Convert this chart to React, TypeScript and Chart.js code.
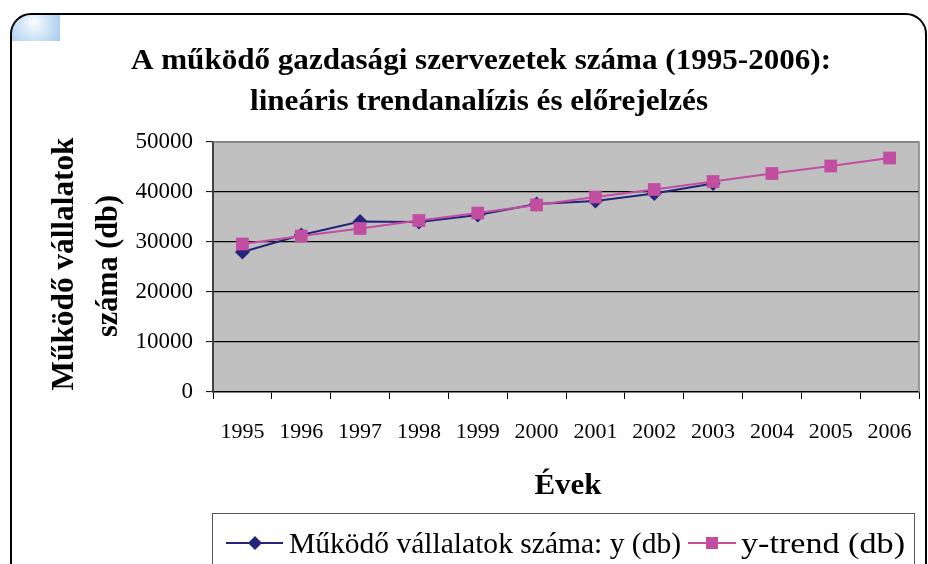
import React, { useEffect, useRef } from "react";
import { Chart, registerables } from "chart.js";

Chart.register(...registerables);

const years = ["1995", "1996", "1997", "1998", "1999", "2000", "2001", "2002", "2003", "2004", "2005", "2006"];
const actualValues = [28000, 31400, 34100, 34000, 35400, 37600, 38200, 39700, 41700, null, null, null];
const trendValues = [29600, 31200, 32700, 34300, 35800, 37400, 39000, 40500, 42100, 43700, 45200, 46800];
const yTicks = [0, 10000, 20000, 30000, 40000, 50000];

const titleLines = ["A működő gazdasági szervezetek száma (1995-2006):", "lineáris trendanalízis és előrejelzés"];
const yTitleLines = ["Működő vállalatok", "száma (db)"];
const xTitle = "Évek";
const seriesNames = ["Működő vállalatok száma: y (db)", "y-trend (db)"];

const NAVY = "#24247c";
const MAGENTA = "#c24ea2";
const SERIF = '"Liberation Serif", "Times New Roman", serif';

function fitText(ctx: CanvasRenderingContext2D, text: string, x: number, y: number, w: number, font: string, align: CanvasTextAlign) {
  ctx.save();
  ctx.font = font;
  const m = ctx.measureText(text).width;
  const s = w / m;
  ctx.translate(x, y);
  ctx.scale(s, 1);
  ctx.textAlign = align;
  ctx.textBaseline = "alphabetic";
  ctx.fillStyle = "#000";
  ctx.fillText(text, 0, 0);
  ctx.restore();
}

const decorPlugin = {
  id: "decor",
  beforeDraw(chart: any) {
    const ctx: CanvasRenderingContext2D = chart.ctx;
    const a = chart.chartArea;
    ctx.save();
    ctx.fillStyle = "#fff";
    ctx.fillRect(0, 0, chart.width, chart.height);
    const framePath = () => {
      ctx.beginPath();
      ctx.moveTo(11, 620);
      ctx.lineTo(11, 34);
      ctx.arcTo(11, 14, 31, 14, 20);
      ctx.lineTo(906, 14);
      ctx.arcTo(926, 14, 926, 34, 20);
      ctx.lineTo(926, 620);
    };
    ctx.save();
    framePath();
    ctx.closePath();
    ctx.clip();
    const g = ctx.createRadialGradient(34, 22, 2, 34, 26, 32);
    g.addColorStop(0, "#f4f9fd");
    g.addColorStop(0.5, "#c9e0f5");
    g.addColorStop(1, "#9ec6ec");
    ctx.fillStyle = g;
    ctx.fillRect(10, 14, 50, 27);
    ctx.restore();
    framePath();
    ctx.strokeStyle = "#000";
    ctx.lineWidth = 2;
    ctx.stroke();
    ctx.fillStyle = "#c0c0c0";
    ctx.fillRect(a.left, a.top, a.right - a.left, a.bottom - a.top);
    ctx.restore();
  },
  afterDraw(chart: any) {
    const ctx: CanvasRenderingContext2D = chart.ctx;
    const a = chart.chartArea;
    ctx.save();
    ctx.strokeStyle = "#808080";
    ctx.lineWidth = 1.5;
    ctx.beginPath();
    ctx.moveTo(a.left, a.top);
    ctx.lineTo(a.right, a.top);
    ctx.lineTo(a.right, a.bottom);
    ctx.stroke();

    fitText(ctx, titleLines[0], 481, 69, 700, `bold 30px ${SERIF}`, "center");
    fitText(ctx, titleLines[1], 479, 110, 458, `bold 30px ${SERIF}`, "center");
    fitText(ctx, xTitle, 568, 494, 67, `bold 30px ${SERIF}`, "center");
    ctx.save();
    ctx.translate(73, 264);
    ctx.rotate(-Math.PI / 2);
    fitText(ctx, yTitleLines[0], 0, 0, 253, `bold 32px ${SERIF}`, "center");
    ctx.restore();
    ctx.save();
    ctx.translate(117, 266);
    ctx.rotate(-Math.PI / 2);
    fitText(ctx, yTitleLines[1], 0, 0, 142, `bold 32px ${SERIF}`, "center");
    ctx.restore();

    ctx.strokeStyle = "#555";
    ctx.lineWidth = 1;
    ctx.strokeRect(212.5, 513.5, 702, 80);
    const ly = 543;
    const ds = chart.data.datasets;
    ctx.strokeStyle = ds[0].borderColor;
    ctx.lineWidth = 2;
    ctx.beginPath();
    ctx.moveTo(226, ly);
    ctx.lineTo(283, ly);
    ctx.stroke();
    ctx.fillStyle = ds[0].borderColor;
    ctx.beginPath();
    ctx.moveTo(255, ly - 7);
    ctx.lineTo(262, ly);
    ctx.lineTo(255, ly + 7);
    ctx.lineTo(248, ly);
    ctx.closePath();
    ctx.fill();
    fitText(ctx, ds[0].label, 289, ly + 10, 392, `30px ${SERIF}`, "left");
    ctx.strokeStyle = ds[1].borderColor;
    ctx.beginPath();
    ctx.moveTo(688, ly);
    ctx.lineTo(736, ly);
    ctx.stroke();
    ctx.fillStyle = ds[1].borderColor;
    ctx.fillRect(706, ly - 6, 12, 12);
    fitText(ctx, ds[1].label, 741, ly + 10, 164, `30px ${SERIF}`, "left");
    ctx.restore();
  },
};

export default function App() {
  const ref = useRef<HTMLCanvasElement>(null);
  useEffect(() => {
    if (!ref.current) return;
    const chart = new Chart(ref.current, {
      type: "line",
      data: {
        labels: years,
        datasets: [
          {
            label: seriesNames[0],
            data: actualValues,
            borderColor: NAVY,
            backgroundColor: NAVY,
            borderWidth: 2,
            pointStyle: "rectRot",
            pointRadius: 7.5,
            pointBorderWidth: 0,
            tension: 0,
            order: 1,
            spanGaps: false,
          },
          {
            label: seriesNames[1],
            data: trendValues,
            borderColor: MAGENTA,
            backgroundColor: MAGENTA,
            borderWidth: 2,
            pointStyle: "rect",
            pointRadius: 9,
            pointBorderWidth: 0,
            tension: 0,
            order: 0,
          },
        ],
      },
      options: {
        responsive: false,
        animation: false,
        devicePixelRatio: 1,
        layout: { padding: { top: 142, right: 6, left: 0, bottom: 112 } },
        plugins: {
          legend: { display: false },
          title: { display: false },
          tooltip: { enabled: false },
        },
        scales: {
          x: {
            type: "category",
            offset: true,
            afterFit: (s: any) => {
              s.height = 60;
              s.paddingLeft = 0;
              s.paddingRight = 0;
            },
            grid: {
              offset: true,
              drawOnChartArea: false,
              drawTicks: true,
              tickLength: 7,
              tickColor: "#000",
              tickWidth: 1,
            },
            border: { display: true, color: "#000", width: 1.5 },
            ticks: {
              color: "#000",
              font: { family: SERIF, size: 22 },
              padding: 20,
              maxRotation: 0,
              autoSkip: false,
            },
          },
          y: {
            min: 0,
            max: 50000,
            afterFit: (s: any) => {
              s.width = 213;
              s.paddingTop = 0;
              s.paddingBottom = 0;
            },
            afterBuildTicks: (s: any) => {
              s.ticks = yTicks.map((v) => ({ value: v }));
            },
            grid: {
              color: (c: any) => (c.tick && c.tick.value === 50000 ? "#808080" : c.tick && c.tick.value === 0 ? "rgba(0,0,0,0)" : "#000"),
              lineWidth: 1.2,
              drawTicks: true,
              tickLength: 7,
              tickColor: "#000",
              tickWidth: 1,
            },
            border: { display: true, color: "#404040", width: 2 },
            ticks: {
              color: "#000",
              font: { family: SERIF, size: 23 },
              padding: 13,
              callback: (v: any) => String(v),
            },
          },
        },
      },
      plugins: [decorPlugin],
    });
    return () => chart.destroy();
  }, []);
  return (
    <div style={{ position: "fixed", left: 0, top: 0, width: 928, height: 564, background: "#fff" }}>
      <canvas ref={ref} width={928} height={564} style={{ width: 928, height: 564, display: "block" }} />
    </div>
  );
}
